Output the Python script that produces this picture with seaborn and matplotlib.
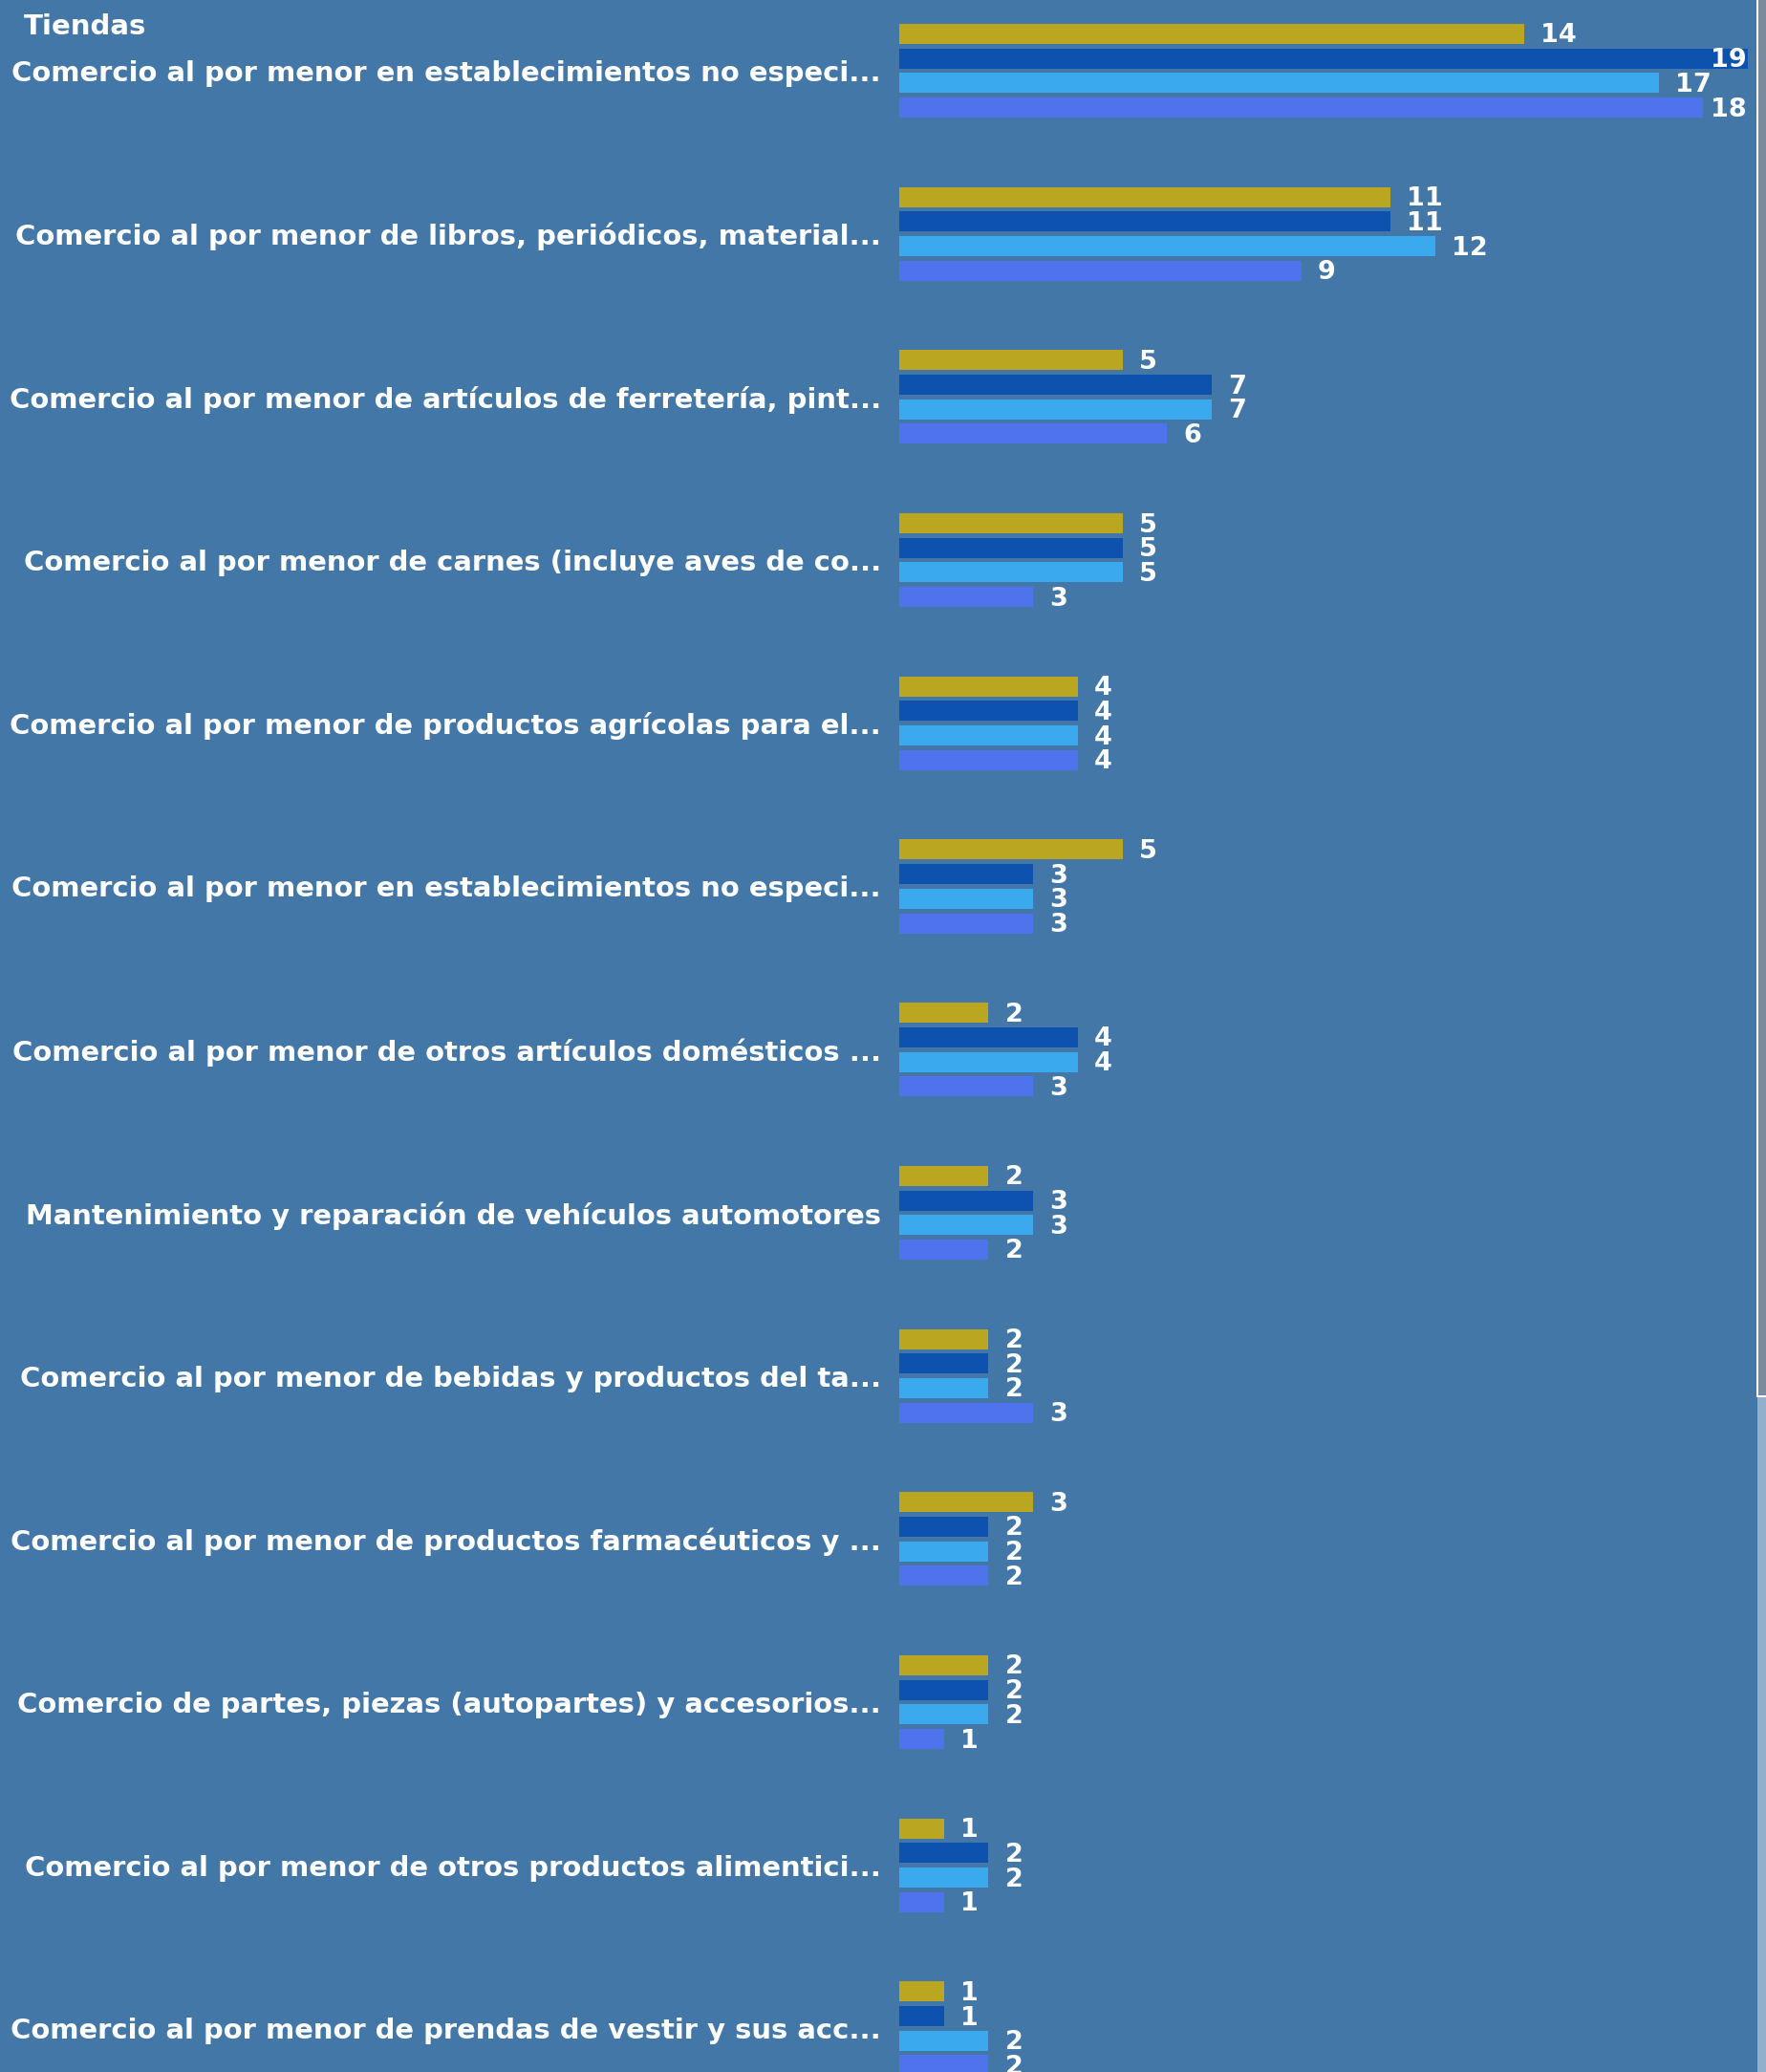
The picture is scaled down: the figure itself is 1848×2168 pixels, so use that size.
import matplotlib
matplotlib.use("Agg")
import matplotlib.pyplot as plt
import seaborn as sns
import pandas as pd
from matplotlib.patches import Rectangle

categories = [
    "Comercio al por menor en establecimientos no especi...",
    "Comercio al por menor de libros, periódicos, material...",
    "Comercio al por menor de artículos de ferretería, pint...",
    "Comercio al por menor de carnes (incluye aves de co...",
    "Comercio al por menor de productos agrícolas para el...",
    "Comercio al por menor en establecimientos no especi...",
    "Comercio al por menor de otros artículos domésticos ...",
    "Mantenimiento y reparación de vehículos automotores",
    "Comercio al por menor de bebidas y productos del ta...",
    "Comercio al por menor de productos farmacéuticos y ...",
    "Comercio de partes, piezas (autopartes) y accesorios...",
    "Comercio al por menor de otros productos alimentici...",
    "Comercio al por menor de prendas de vestir y sus acc...",
]
series_names = ["Serie 1", "Serie 2", "Serie 3", "Serie 4"]
serie_1 = [14, 11, 5, 5, 4, 5, 2, 2, 2, 3, 2, 1, 1]
serie_2 = [19, 11, 7, 5, 4, 3, 4, 3, 2, 2, 2, 2, 1]
serie_3 = [17, 12, 7, 5, 4, 3, 4, 3, 2, 2, 2, 2, 2]
serie_4 = [18, 9, 6, 3, 4, 3, 3, 2, 3, 2, 1, 1, 2]
colors = ["#BBA621", "#0D52AE", "#3AA9EE", "#4E73EC"]
title = "Tiendas"

BG = "#4277A8"
W, H = 1848, 2168
DPI = 100
LABEL_FS = 20.9
VALUE_FS = 19.5

keys = [f"c{i}" for i in range(len(categories))]
rows = []
for name, vals in zip(series_names, [serie_1, serie_2, serie_3, serie_4]):
    for k, v in zip(keys, vals):
        rows.append({"cat": k, "serie": name, "valor": v})
df = pd.DataFrame(rows)

sns.set_style("white")
plt.rcParams["font.family"] = ["DejaVu Sans"]

fig = plt.figure(figsize=(W / DPI, H / DPI), dpi=DPI, facecolor=BG)
ax_left, ax_right = 941, 1829
ax = fig.add_axes([ax_left / W, 0, (ax_right - ax_left) / W, 1])
ax.set_facecolor(BG)

sns.barplot(data=df, y="cat", x="valor", hue="serie", order=keys,
            hue_order=series_names, palette=colors, orient="h",
            width=0.602, gap=0.183, saturation=1, legend=False, ax=ax,
            linewidth=0, errorbar=None)

ax.set_xlim(0, 19)
pitch = 170.7
y0 = 74.0
ax.set_ylim((H - y0) / pitch, -y0 / pitch)
ax.set_yticks(range(len(categories)))
ax.set_yticklabels(categories, fontsize=LABEL_FS, fontweight="bold", color="white")
ax.tick_params(axis="y", length=0, pad=13.7)
ax.set_xticks([])
ax.set_xlabel("")
ax.set_ylabel("")
for s in ax.spines.values():
    s.set_visible(False)

# value labels
texts = []
for cont in ax.containers:
    for p in cont:
        v = p.get_width()
        yc = p.get_y() + p.get_height() / 2
        t = ax.annotate(f"{int(round(v))}", (v, yc), xytext=(17, -2),
                        textcoords="offset pixels", ha="left", va="center",
                        fontsize=VALUE_FS, fontweight="bold", color="white",
                        annotation_clip=False)
        texts.append((t, v, yc))

fig.canvas.draw()
r = fig.canvas.get_renderer()
for t, v, yc in texts:
    bb = t.get_window_extent(r)
    if bb.x1 > ax_right - 1:
        t.remove()
        ax.annotate(t.get_text(), (19, yc), xytext=(-1, -2),
                    textcoords="offset pixels", ha="right", va="center",
                    fontsize=VALUE_FS, fontweight="bold", color="white",
                    annotation_clip=False)

fig.text(25 / W, 1 - 28 / H, title, ha="left", va="center",
         fontsize=21, fontweight="bold", color="white")

# scrollbar
thumb_bottom = 1462
fig.patches.append(Rectangle((1839 / W, 0), (W - 1839) / W, 1 - thumb_bottom / H,
                             transform=fig.transFigure, facecolor="#94AFCB",
                             edgecolor="none"))
fig.patches.append(Rectangle((1838 / W, 1 - thumb_bottom / H), (W - 1838) / W,
                             thumb_bottom / H, transform=fig.transFigure,
                             facecolor="white", edgecolor="none"))
fig.patches.append(Rectangle((1840 / W, 1 - (thumb_bottom - 2) / H), (W - 1840) / W,
                             (thumb_bottom - 2) / H, transform=fig.transFigure,
                             facecolor="#7A8BA0", edgecolor="none"))

fig.savefig("out.png", dpi=DPI, facecolor=BG)
